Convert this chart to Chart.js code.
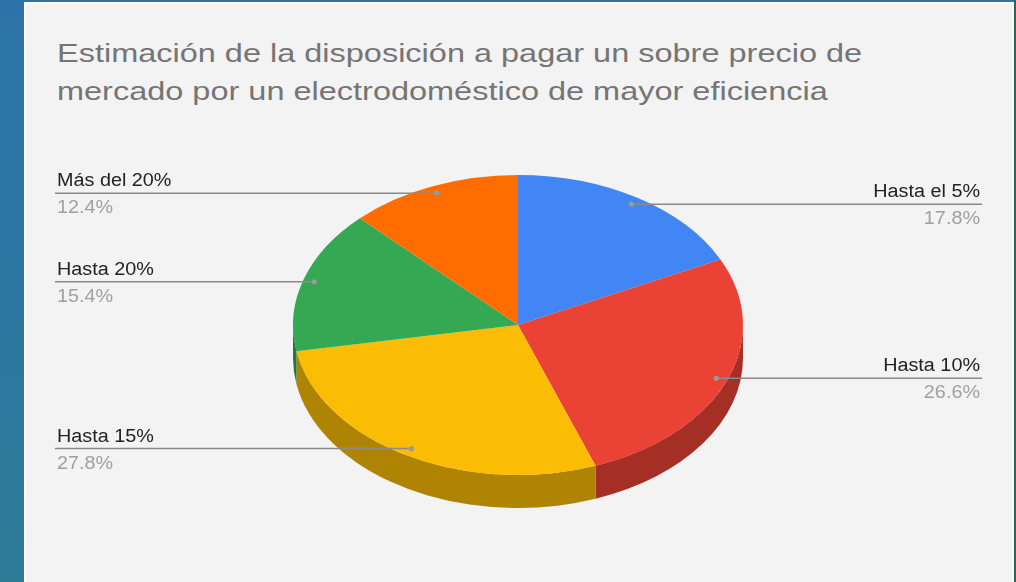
<!DOCTYPE html>
<html>
<head>
<meta charset="utf-8">
<script src="https://cdn.jsdelivr.net/npm/chart.js@4.4.1/dist/chart.umd.min.js"></script>
<style>
  html, body { margin: 0; padding: 0; }
  body { width: 1016px; height: 582px; overflow: hidden; position: relative;
         background: linear-gradient(180deg, #2d73a9 0%, #2c77a0 60%, #2e7b96 100%); }
  #panel { position: absolute; left: 24px; top: 2px; width: 986px; height: 580px;
           background: #f3f3f3; border-left: 2px solid #fff; border-top: 2px solid #fff; border-right: 2px solid #fbfbfb; }
  #edge { position: absolute; left: 1014px; top: 0; width: 2px; height: 582px; background: #1f6b5a; }
  #title { position: absolute; left: 57px; top: 34px; font-family: "Liberation Sans", Arial, sans-serif;
           font-size: 26px; line-height: 38px; color: #757575; white-space: nowrap;
           transform: scaleX(1.249); transform-origin: 0 0; }
  #wrap { position: absolute; left: 0; top: 0; width: 1016px; height: 582px; }
</style>
</head>
<body>
<div id="panel"></div>
<div id="edge"></div>
<div id="title">Estimación de la disposición a pagar un sobre precio de<br>mercado por un electrodoméstico de mayor eficiencia</div>
<div id="wrap"><canvas id="c" width="1016" height="582"></canvas></div>
<script>
const categories = ["Hasta el 5%", "Hasta 10%", "Hasta 15%", "Hasta 20%", "Más del 20%"];
const values = [17.8, 26.6, 27.8, 15.4, 12.4];
const colors = ["#4285f4", "#ea4335", "#fbbc04", "#34a853", "#ff6d01"];
const sideColors = ["#2e5dab", "#a52f25", "#b08403", "#24763a", "#b34c01"];

const TILT = 150 / 225;   // vertical squash of the pie
const DEPTH = 33;         // thickness of the 3D side
const TEXT_STRETCH = 1.1;

function stretchedText(ctx, text, x, y, align) {
  ctx.save();
  ctx.translate(x, y);
  ctx.scale(TEXT_STRETCH, 1);
  ctx.textAlign = align;
  ctx.fillText(text, 0, 0);
  ctx.restore();
}

const pie3d = {
  id: 'pie3d',
  beforeDatasetsDraw(chart) {
    const ctx = chart.ctx;
    const meta = chart.getDatasetMeta(0);
    ctx.save();
    meta.data.forEach((el, i) => {
      const a1 = Math.max(el.startAngle, 0);
      const a2 = Math.min(el.endAngle, Math.PI);
      if (a2 <= a1) return;
      const R = el.outerRadius, cx = el.x, cy = el.y;
      ctx.beginPath();
      ctx.ellipse(cx, cy, R, R * TILT, 0, a1, a2, false);
      ctx.ellipse(cx, cy + DEPTH, R, R * TILT, 0, a2, a1, true);
      ctx.closePath();
      ctx.fillStyle = sideColors[i];
      ctx.fill();
    });
    ctx.restore();
    const el0 = meta.data[0];
    ctx.save();
    ctx.translate(0, el0.y);
    ctx.scale(1, TILT);
    ctx.translate(0, -el0.y);
  },
  afterDatasetsDraw(chart) {
    const ctx = chart.ctx;
    ctx.restore();
    const meta = chart.getDatasetMeta(0);
    const total = values.reduce((a, b) => a + b, 0);
    ctx.save();
    meta.data.forEach((el, i) => {
      const mid = (el.startAngle + el.endAngle) / 2;
      const r = el.outerRadius * 0.95;
      const ax = el.x + r * Math.cos(mid);
      const ay = el.y + r * TILT * Math.sin(mid);
      const right = Math.cos(mid) >= 0;
      const ex = right ? 982 : 55;
      ctx.strokeStyle = '#8a8a8a';
      ctx.lineWidth = 1.6;
      ctx.beginPath();
      ctx.moveTo(ax, ay);
      ctx.lineTo(ex, ay);
      ctx.stroke();
      ctx.fillStyle = '#999';
      ctx.beginPath();
      ctx.arc(ax, ay, 2.6, 0, Math.PI * 2);
      ctx.fill();
      ctx.textBaseline = 'alphabetic';
      const tx = right ? 980 : 57;
      const align = right ? 'right' : 'left';
      ctx.font = '18px "Liberation Sans", Arial, sans-serif';
      ctx.fillStyle = '#222';
      stretchedText(ctx, categories[i], tx, ay - 7, align);
      ctx.font = '18px "Liberation Sans", Arial, sans-serif';
      ctx.fillStyle = '#a0a0a0';
      stretchedText(ctx, (values[i] / total * 100).toFixed(1) + '%', tx, ay + 20, align);
    });
    ctx.restore();
  }
};

new Chart(document.getElementById('c'), {
  type: 'pie',
  data: {
    labels: categories,
    datasets: [{ data: values, backgroundColor: colors, borderWidth: 0, hoverOffset: 0 }]
  },
  options: {
    responsive: false,
    animation: false,
    layout: { padding: { left: 293, right: 273, top: 100, bottom: 32 } },
    plugins: { legend: { display: false }, tooltip: { enabled: false }, title: { display: false } },
    events: []
  },
  plugins: [pie3d]
});
</script>
</body>
</html>
